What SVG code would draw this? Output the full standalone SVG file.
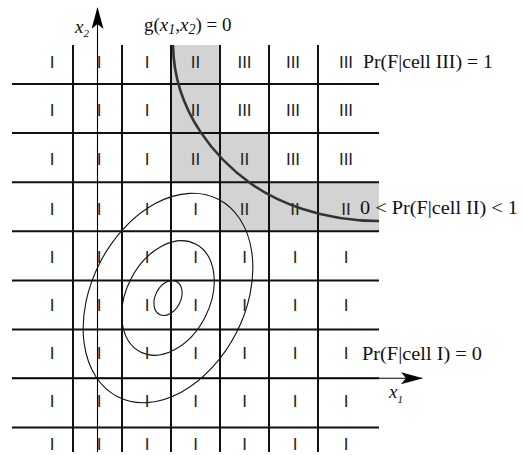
<svg xmlns="http://www.w3.org/2000/svg" width="523" height="455" viewBox="0 0 523 455">
<style>
.shade{fill:#d3d3d3;stroke:none}
.grid{stroke:#111;stroke-width:2;fill:none}
.axis{stroke:#000;stroke-width:1.1;fill:none}
.ell{stroke:#111;stroke-width:1.1;fill:none}
.curve{stroke:#333;stroke-width:2.6;fill:none}
.c{font-family:"Liberation Sans",Arial,sans-serif;font-size:17px;fill:#222;text-anchor:middle}
.m{font-family:"Liberation Serif","Times New Roman",serif;font-size:19px;fill:#111}
.i{font-style:italic}
</style>
<defs>
<marker id="arr" viewBox="0 0 22 12" refX="21" refY="6" markerWidth="22" markerHeight="12" markerUnits="userSpaceOnUse" orient="auto">
<path d="M0,0 L22,6 L0,12 L5,6 Z" fill="#000"/>
</marker>
</defs>
<rect width="523" height="455" fill="#fff"/>
<g id="shading">
<rect class="shade" x="171" y="45" width="49" height="137.5"/>
<rect class="shade" x="220" y="133" width="49" height="98.5"/>
<rect class="shade" x="269" y="182" width="110" height="49.5"/>
</g>
<g id="contours">
<ellipse class="ell" cx="168" cy="298" rx="110.8" ry="76.7" transform="rotate(-63 168 298)"/>
<ellipse class="ell" cx="168" cy="298" rx="60.6" ry="41.7" transform="rotate(-63 168 298)"/>
<ellipse class="ell" cx="168" cy="298" rx="18.5" ry="12.7" transform="rotate(-63 168 298)"/>
</g>
<g id="grid">
<path class="grid" d="M12,84H379 M12,133H379 M12,182.2H379 M12,231.3H379 M12,280.4H379 M12,329.5H379 M12,378.2H379 M12,427.5H379"/>
<path class="grid" d="M73,45V452 M122,45V452 M171,45V452 M220,45V452 M269,45V452 M318,45V452"/>
</g>
<g id="axes">
<path class="axis" d="M97.5,452V8" marker-end="url(#arr)"/>
<path class="axis" d="M12,378.2H422" marker-end="url(#arr)"/>
<text class="m i" x="75" y="33" font-size="17">x<tspan font-size="11" dy="4">2</tspan></text>
<text class="m i" x="389" y="398" font-size="17">x<tspan font-size="11" dy="5">1</tspan></text>
</g>
<g id="cells">
<text class="c" x="52" y="68">I</text><text class="c" x="99" y="68">I</text><text class="c" x="147" y="68">I</text><text class="c" x="195.5" y="68">II</text><text class="c" x="244.5" y="68">III</text><text class="c" x="293" y="68">III</text><text class="c" x="346" y="68">III</text>
<text class="c" x="52" y="116">I</text><text class="c" x="99" y="116">I</text><text class="c" x="147" y="116">I</text><text class="c" x="195.5" y="116">II</text><text class="c" x="244.5" y="116">III</text><text class="c" x="293" y="116">III</text><text class="c" x="346" y="116">III</text>
<text class="c" x="52" y="165">I</text><text class="c" x="99" y="165">I</text><text class="c" x="147" y="165">I</text><text class="c" x="195.5" y="165">II</text><text class="c" x="244.5" y="165">II</text><text class="c" x="293" y="165">III</text><text class="c" x="346" y="165">III</text>
<text class="c" x="52" y="215">I</text><text class="c" x="99" y="215">I</text><text class="c" x="147" y="215">I</text><text class="c" x="195.5" y="215">I</text><text class="c" x="244.5" y="215">II</text><text class="c" x="295" y="215">II</text><text class="c" x="346" y="215">II</text>
<text class="c" x="52" y="263">I</text><text class="c" x="99" y="263">I</text><text class="c" x="147" y="263">I</text><text class="c" x="195.5" y="263">I</text><text class="c" x="244.5" y="263">I</text><text class="c" x="295" y="263">I</text><text class="c" x="346" y="263">I</text>
<text class="c" x="52" y="311">I</text><text class="c" x="99" y="311">I</text><text class="c" x="147" y="311">I</text><text class="c" x="195.5" y="311">I</text><text class="c" x="244.5" y="311">I</text><text class="c" x="295" y="311">I</text><text class="c" x="346" y="311">I</text>
<text class="c" x="52" y="359">I</text><text class="c" x="99" y="359">I</text><text class="c" x="147" y="359">I</text><text class="c" x="195.5" y="359">I</text><text class="c" x="244.5" y="359">I</text><text class="c" x="295" y="359">I</text><text class="c" x="346" y="359">I</text>
<text class="c" x="52" y="407">I</text><text class="c" x="99" y="407">I</text><text class="c" x="147" y="407">I</text><text class="c" x="195.5" y="407">I</text><text class="c" x="244.5" y="407">I</text><text class="c" x="295" y="407">I</text><text class="c" x="346" y="407">I</text>
<text class="c" x="52" y="450">I</text><text class="c" x="99" y="450">I</text><text class="c" x="147" y="450">I</text><text class="c" x="195.5" y="450">I</text><text class="c" x="244.5" y="450">I</text><text class="c" x="295" y="450">I</text><text class="c" x="346" y="450">I</text>
</g>
<g id="limit-state">
<path class="curve" d="M173,45 C174,115 220,161.4 250,183 C275,201 320,221 379,221"/>
<text class="m" x="144" y="31">g(<tspan class="i">x</tspan><tspan class="i" font-size="14" dy="3">1</tspan><tspan dy="-3">,</tspan><tspan class="i">x</tspan><tspan class="i" font-size="14" dy="3">2</tspan><tspan dy="-3">) = 0</tspan></text>
</g>
<g id="annotations">
<text class="m" x="363" y="68" textLength="130" lengthAdjust="spacingAndGlyphs">Pr(F|cell III) = 1</text>
<text class="m" x="360" y="214" textLength="158" lengthAdjust="spacingAndGlyphs">0 &lt; Pr(F|cell II) &lt; 1</text>
<text class="m" x="362" y="360" textLength="120" lengthAdjust="spacingAndGlyphs">Pr(F|cell I) = 0</text>
</g>
</svg>
